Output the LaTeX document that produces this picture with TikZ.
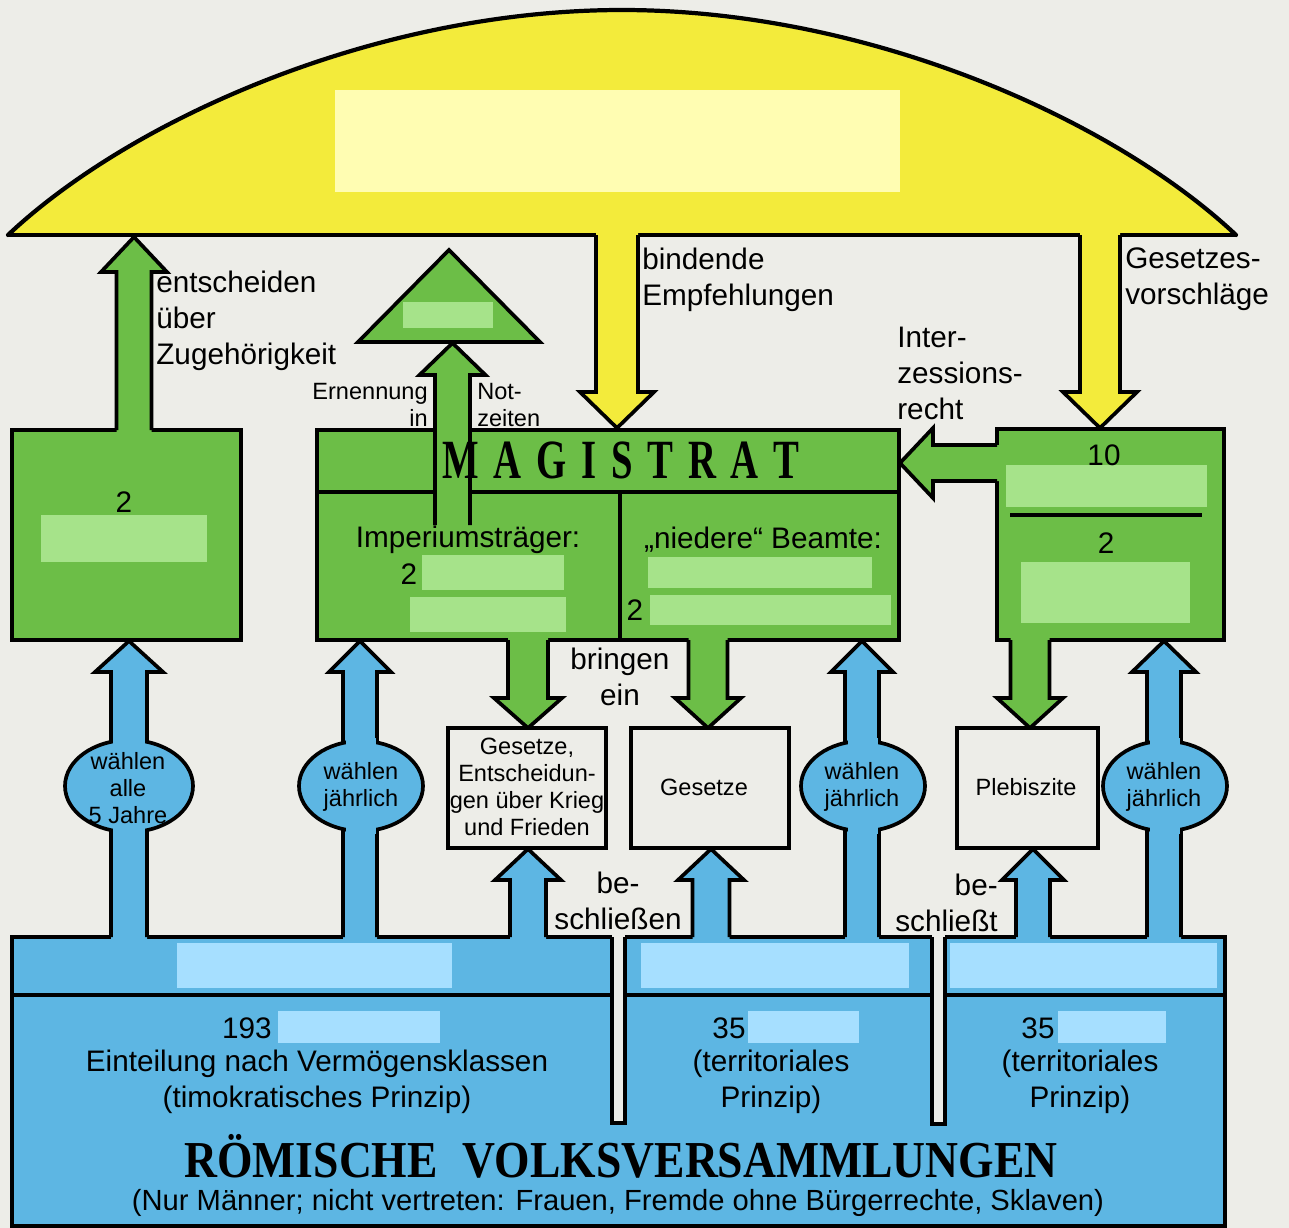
\documentclass[tikz,border=0pt]{standalone}
\usepackage{fontspec}
\usepackage{graphicx}
\setmainfont{Liberation Sans}
\newfontfamily\titleserif{Liberation Serif}
\definecolor{bgc}{HTML}{EDEDE8}
\definecolor{yel}{HTML}{F3EB3B}
\definecolor{yelph}{HTML}{FFFDB2}
\definecolor{grn}{HTML}{6CBE47}
\definecolor{grnph}{HTML}{A6E38A}
\definecolor{blu}{HTML}{5DB6E3}
\definecolor{bluph}{HTML}{A6DFFF}
\tikzset{
  outl/.style={draw=black, line width=2.1pt, line join=miter, line cap=butt},
  big/.style={inner sep=0pt, font=\fontsize{16.9}{20.5}\selectfont},
  small/.style={inner sep=0pt, font=\fontsize{13.4}{15.3}\selectfont},
}
% #1 xc, #2 y outline base, #3 y fill base, #4 y shoulder, #5 y tip, #6 half stem, #7 half head, #8 colour
\newcommand\blkarrowV[8]{%
  \fill[#8] (#1-#6,#3) -- (#1-#6,#4) -- (#1-#7,#4) -- (#1,#5) -- (#1+#7,#4) -- (#1+#6,#4) -- (#1+#6,#3) -- cycle;
  \draw[outl] (#1-#6,#2) -- (#1-#6,#4) -- (#1-#7,#4) -- (#1,#5) -- (#1+#7,#4) -- (#1+#6,#4) -- (#1+#6,#2);
}
% #1 xc, #2 yc, #3 rx, #4 ry, #5 half stem
\newcommand\bulgeE[5]{%
  \filldraw[fill=blu, outl] (#1,#2) ellipse [x radius=#3, y radius=#4];
  \fill[blu] (#1-#5+2,#2-#4-3) rectangle (#1+#5-2,#2+#4+3);
}
\begin{document}
\begin{tikzpicture}[x=0.02cm,y=-0.02cm]
\useasboundingbox (0,0) rectangle (1289,1228);
\fill[bgc] (0,0) rectangle (1289,1228);

% ---------- dome ----------
\coordinate (domeL) at (8,235);
\coordinate (domeT) at (622,10);
\coordinate (domeR) at (1236,235);
\fill[yel] (domeL) .. controls (130,120) and (375,10) .. (domeT)
   .. controls (869,10) and (1114,120) .. (domeR) -- cycle;
\draw[outl] (domeL) -- (domeR);
\fill[yelph] (335,90) rectangle (900,192);

% ---------- left green box ----------
\filldraw[fill=grn, outl] (12,430) rectangle (241,640);
\fill[grnph] (41,515) rectangle (207,562);
\blkarrowV{134}{430}{437}{272}{237}{17.5}{33}{grn}

% ---------- triangle ----------
\filldraw[fill=grn, outl] (449,250) -- (540,342) -- (358,342) -- cycle;
\fill[grnph] (403,302) rectangle (493,328);

% ---------- magistrat ----------
\filldraw[fill=grn, outl] (317,430) rectangle (899,640);
\draw[outl] (317,492) -- (899,492);
\draw[outl] (620,492) -- (620,640);
\blkarrowV{452.5}{525}{525}{375}{343}{17.5}{33}{grn}
\fill[grnph] (422,555) rectangle (564,590);
\fill[grnph] (410,597) rectangle (566,632);
\fill[grnph] (648,557) rectangle (872,588);
\fill[grnph] (650,595) rectangle (891,625);

% ---------- tribune box ----------
\filldraw[fill=grn, outl] (997,429) rectangle (1224,640);
\fill[grnph] (1006,465) rectangle (1207,507);
\fill[grnph] (1021,562) rectangle (1190,623);
\draw[outl] (1010,515) -- (1202,515);
% Interzessionsrecht arrow
\fill[grn] (1002,445) -- (933,445) -- (933,428) -- (900,463) -- (933,498) -- (933,481) -- (1002,481) -- cycle;
\draw[outl] (997,445) -- (933,445) -- (933,428) -- (900,463) -- (933,498) -- (933,481) -- (997,481);

% ---------- yellow arrows ----------
\blkarrowV{617}{235}{228}{392}{428}{21}{37}{yel}
\blkarrowV{1100}{235}{228}{392}{428}{20}{37}{yel}

% ---------- green arrows down ----------
\blkarrowV{528}{640}{633}{698}{728}{20}{34}{grn}
\blkarrowV{708}{640}{633}{698}{728}{19.5}{33}{grn}
\blkarrowV{1030}{640}{633}{698}{728}{19.5}{33}{grn}

% ---------- white boxes ----------
\filldraw[fill=bgc, outl] (448,728) rectangle (606,848);
\filldraw[fill=bgc, outl] (631,728) rectangle (789,848);
\filldraw[fill=bgc, outl] (957,728) rectangle (1098,848);

% ---------- bottom block ----------
\filldraw[fill=blu, outl] (12,937) rectangle (1225,1226);
\draw[outl] (12,995) -- (1225,995);

% blue arrows to white boxes
\blkarrowV{528}{937}{942}{880}{849}{18}{33}{blu}
\blkarrowV{711}{937}{942}{880}{849}{18.5}{33}{blu}
\blkarrowV{1033}{937}{942}{880}{849}{17}{31}{blu}

% election arrows
\blkarrowV{129}{937}{942}{672}{641}{18}{34}{blu}
\bulgeE{129}{786}{64}{46}{18}
\blkarrowV{360}{937}{942}{672}{641}{17}{31}{blu}
\bulgeE{361}{786}{62}{45}{17}
\blkarrowV{862}{937}{942}{672}{641}{17}{31}{blu}
\bulgeE{863}{786}{62}{45}{17}
\blkarrowV{1164}{937}{942}{672}{641}{17}{32}{blu}
\bulgeE{1165}{786}{62}{45}{17}

% placeholders in block
\fill[bluph] (177,943) rectangle (452,988);
\fill[bluph] (641,943) rectangle (909,988);
\fill[bluph] (950,943) rectangle (1217,988);
\fill[bluph] (278,1011) rectangle (440,1043);
\fill[bluph] (748,1011) rectangle (859,1043);
\fill[bluph] (1058,1011) rectangle (1166,1043);

% slits
\fill[bgc] (612,932) rectangle (625,1123);
\draw[outl] (612,937) -- (612,1123) -- (625,1123) -- (625,937);
\fill[bgc] (932,932) rectangle (945,1124);
\draw[outl] (932,937) -- (932,1124) -- (945,1124) -- (945,937);

% ---------- dome outline (curved part) ----------
\draw[black, line width=2.4pt, line join=round, line cap=round] (domeL) .. controls (130,120) and (375,10) .. (domeT)
   .. controls (869,10) and (1114,120) .. (domeR);

% ---------- texts ----------
\node[big, align=left, anchor=west] (tEntsch) at (156,321) {entscheiden\\über\\Zugehörigkeit};
\node[big, align=left, anchor=west] (tBind) at (642,280) {bindende\\Empfehlungen};
\node[big, align=left, anchor=west] (tGesv) at (1125,279) {Gesetzes-\\vorschläge};
\node[big, align=left, anchor=west] (tInter) at (897,373) {Inter-\\zessions-\\recht};
\node[small, align=right, anchor=east] (tErn) at (428,405) {Ernennung\\in};
\node[small, align=left, anchor=west] (tNot) at (477,405) {Not-\\zeiten};
\node[inner sep=0pt] (tMag) at (621,460) {\scalebox{0.7}[1]{\titleserif\bfseries\fontsize{31.5}{31.5}\selectfont M\kern12pt A\kern12pt G\kern12pt I\kern12pt S\kern12pt T\kern12pt R\kern12pt A\kern12pt T}};
\node[big] (tImp) at (468,540) {Imperiumsträger:};
\node[big] (tNied) at (763,540) {„niedere“ Beamte:};
\node[big] (nA) at (124,502) {2};
\node[big] (nB) at (409,574) {2};
\node[big] (nC) at (635,610) {2};
\node[big] (nD) at (1104,455) {10};
\node[big] (nE) at (1106,543) {2};
\node[big, align=center] (tBring) at (620,677) {bringen\\ein};
\node[small, align=center] (tKrieg) at (527,787) {Gesetze,\\Entscheidun-\\gen über Krieg\\und Frieden};
\node[small] (tGes) at (704,787) {Gesetze};
\node[small] (tPleb) at (1026,787) {Plebiszite};
\node[small, align=center] (wA) at (128,788) {wählen\\alle\\5 Jahre};
\node[small, align=center] (wB) at (361,787) {wählen\\jährlich};
\node[small, align=center] (wC) at (862,787) {wählen\\jährlich};
\node[small, align=center] (wD) at (1164,787) {wählen\\jährlich};
\node[big, align=center] (tBesch) at (618,901) {be-\\schließen};
\node[big, align=right, anchor=east] (tBeschl) at (998,903) {be-\\schließt};
\node[big] (n193) at (247,1028) {193};
\node[big] (n35a) at (729,1028) {35};
\node[big] (n35b) at (1038,1028) {35};
\node[big, align=center] (tEint) at (317,1082) {Einteilung nach Vermögensklassen\\(timokratisches Prinzip)};
\node[big, align=center] (tTerrA) at (771,1082) {(territoriales\\Prinzip)};
\node[big, align=center] (tTerrB) at (1080,1082) {(territoriales\\Prinzip)};
\node[inner sep=0pt, anchor=base] (tRom) at (621,1177) {\scalebox{0.88}[1]{\titleserif\bfseries\fontsize{29.5}{29.5}\selectfont RÖMISCHE\hspace{0.3em} VOLKSVERSAMMLUNGEN}};
\node[inner sep=0pt, font=\fontsize{16.6}{20}\selectfont] (tNur) at (618,1203) {(Nur Männer; nicht vertreten: Frauen, Fremde ohne Bürgerrechte, Sklaven)};
\end{tikzpicture}
\end{document}
